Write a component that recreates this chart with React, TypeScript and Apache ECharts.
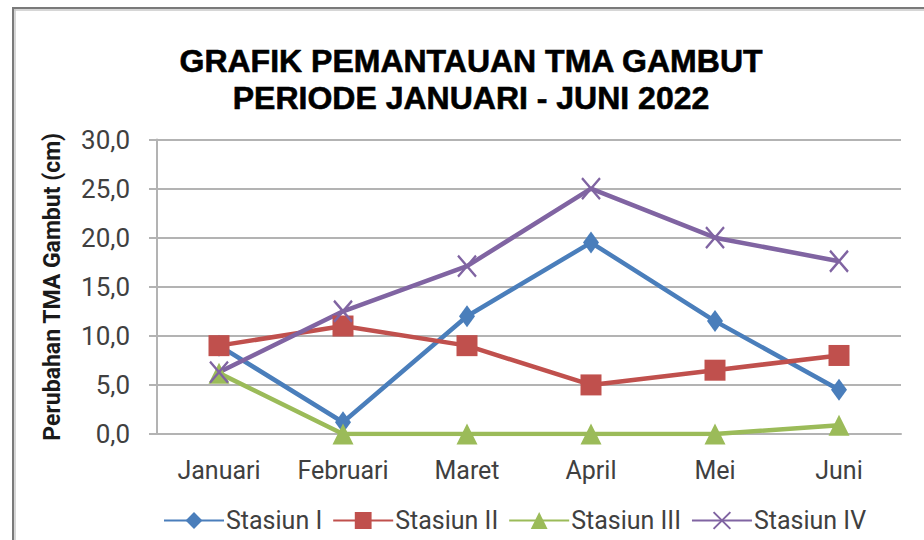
import React, { useEffect, useRef } from "react";
import * as echarts from "echarts";

const categories = ["Januari", "Februari", "Maret", "April", "Mei", "Juni"];
const stasiun1 = [9.0, 1.2, 12.0, 19.5, 11.5, 4.5];
const stasiun2 = [9.0, 11.0, 9.0, 5.0, 6.5, 8.0];
const stasiun3 = [6.2, 0.0, 0.0, 0.0, 0.0, 0.9];
const stasiun4 = [6.3, 12.5, 17.1, 25.0, 20.0, 17.6];
const seriesNames = ["Stasiun I", "Stasiun II", "Stasiun III", "Stasiun IV"];

const FONT = "Roboto, sans-serif";
const TEXT_COLOR = "#404040";
const GRID_COLOR = "#b3b3b3";

export default function App() {
  const ref = useRef<HTMLDivElement>(null);

  useEffect(() => {
    if (!ref.current) return;
    const chart = echarts.init(ref.current, undefined, { renderer: "svg" });
    const lineW = 4.5;
    const mk = (name: string, data: number[], color: string, symbol: string, size: any, extra: any = {}) => ({
      name,
      type: "line",
      data,
      symbol,
      symbolSize: size,
      lineStyle: { color, width: lineW },
      itemStyle: { color, ...(extra.itemStyle || {}) },
      emphasis: { disabled: true },
    });
    chart.setOption({
      animation: false,
      backgroundColor: "#ffffff",
      title: {
        text: "GRAFIK PEMANTAUAN TMA GAMBUT\nPERIODE JANUARI - JUNI 2022",
        left: 471,
        textAlign: "center",
        top: 42,
        padding: 0,
        textStyle: {
          fontFamily: "'Liberation Sans', Arial, sans-serif",
          fontWeight: "bold",
          fontSize: 32,
          lineHeight: 37,
          color: "#000000",
          textBorderColor: "#000000",
          textBorderWidth: 0.6,
        },
      },
      grid: { left: 157, right: 23, top: 139.5, bottom: 106 },
      xAxis: {
        type: "category",
        data: categories,
        boundaryGap: true,
        axisLine: { lineStyle: { color: GRID_COLOR, width: 2 } },
        axisTick: { show: false },
        axisLabel: {
          interval: 0,
          margin: 24,
          fontFamily: FONT,
          fontSize: 25,
          lineHeight: 25,
          color: TEXT_COLOR,
        },
      },
      yAxis: {
        type: "value",
        min: 0,
        max: 30,
        interval: 5,
        name: "Perubahan TMA Gambut (cm)",
        nameLocation: "middle",
        nameRotate: 90,
        nameGap: 93,
        nameTextStyle: {
          fontFamily: FONT,
          fontWeight: "bold",
          fontSize: 23,
          color: "#1a1a1a",
        },
        axisLine: { show: true, lineStyle: { color: GRID_COLOR, width: 2 } },
        axisTick: { show: true, length: 8, lineStyle: { color: GRID_COLOR, width: 2 } },
        splitLine: { lineStyle: { color: GRID_COLOR, width: 2 } },
        axisLabel: {
          margin: 27,
          fontFamily: FONT,
          fontSize: 26,
          color: TEXT_COLOR,
          formatter: (v: number) => v.toFixed(1).replace(".", ","),
        },
      },
      legend: {
        data: seriesNames,
        left: 158,
        top: 503,
        itemWidth: 60,
        itemHeight: 21,
        itemGap: 10,
        textStyle: { fontFamily: FONT, fontSize: 25, color: TEXT_COLOR, padding: [0, 0, 0, -3] },
      },
      series: [
        mk(seriesNames[0], stasiun1, "#4a7ebb", "diamond", [16, 22]),
        mk(seriesNames[1], stasiun2, "#c0504d", "rect", 21),
        mk(seriesNames[2], stasiun3, "#9bbb59", "triangle", [21, 21]),
        mk(seriesNames[3], stasiun4, "#8064a2", "path://M0,0L10,10M10,0L0,10", [18, 21], {
          itemStyle: { borderColor: "#8064a2", borderWidth: 2.5 },
        }),
      ],
      graphic: [
        { type: "line", shape: { x1: 12, y1: 8, x2: 924, y2: 8 }, style: { stroke: "#7a7a7a", lineWidth: 2 } },
        { type: "line", shape: { x1: 14, y1: 10, x2: 924, y2: 10 }, style: { stroke: "#c8c8c8", lineWidth: 1.5 } },
        { type: "line", shape: { x1: 13, y1: 7, x2: 13, y2: 540 }, style: { stroke: "#7a7a7a", lineWidth: 2 } },
        { type: "line", shape: { x1: 15, y1: 9, x2: 15, y2: 540 }, style: { stroke: "#c8c8c8", lineWidth: 1.5 } },
      ],
    });
    return () => chart.dispose();
  }, []);

  return (
    <div
      ref={ref}
      style={{ position: "fixed", left: 0, top: 0, width: 924, height: 540, background: "#fff" }}
    />
  );
}
